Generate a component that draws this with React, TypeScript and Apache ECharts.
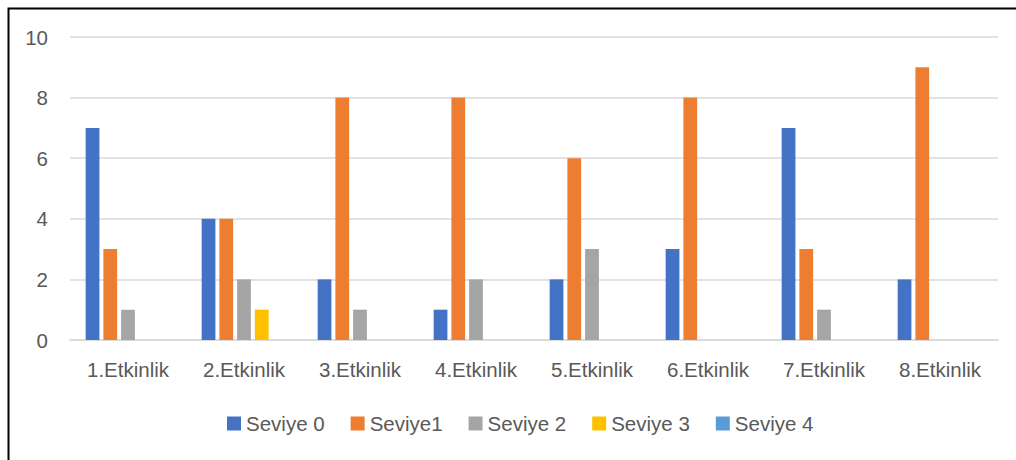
import React, { useEffect, useRef } from "react";
import * as echarts from "echarts";

// Categories along the x axis
const categories = [
  "1.Etkinlik",
  "2.Etkinlik",
  "3.Etkinlik",
  "4.Etkinlik",
  "5.Etkinlik",
  "6.Etkinlik",
  "7.Etkinlik",
  "8.Etkinlik",
];

// Series names and values per category
const seriesNames = ["Seviye 0", "Seviye1", "Seviye 2", "Seviye 3", "Seviye 4"];
const seviye0 = [7, 4, 2, 1, 2, 3, 7, 2];
const seviye1 = [3, 4, 8, 8, 6, 8, 3, 9];
const seviye2 = [1, 2, 1, 2, 3, 0, 1, 0];
const seviye3 = [0, 1, 0, 0, 0, 0, 0, 0];
const seviye4 = [0, 0, 0, 0, 0, 0, 0, 0];

const seriesColors = ["#4472C4", "#ED7D31", "#A5A5A5", "#FFC000", "#5B9BD5"];

// Y axis range
const yMin = 0;
const yMax = 10;
const yStep = 2;

const FONT = "'Liberation Sans', Arial, sans-serif";
const TEXT_COLOR = "#595959";
const GRID_COLOR = "#D9D9D9";

export default function App() {
  const ref = useRef<HTMLDivElement>(null);

  useEffect(() => {
    if (!ref.current) return;
    const chart = echarts.init(ref.current, null, { renderer: "svg" });
    const values = [seviye0, seviye1, seviye2, seviye3, seviye4];

    chart.setOption({
      animation: false,
      backgroundColor: "#FFFFFF",
      textStyle: { fontFamily: FONT },
      graphic: [
        {
          type: "rect",
          left: 6,
          top: 6,
          shape: { x: 0, y: 0, width: 1040, height: 480 },
          style: { fill: "none", stroke: "#000000", lineWidth: 2 },
          silent: true,
        },
      ],
      grid: {
        left: 70,
        right: 18,
        top: 37,
        bottom: 120,
        containLabel: false,
      },
      legend: {
        left: 222,
        top: 408,
        itemWidth: 14,
        itemHeight: 14,
        itemGap: 26,
        icon: "rect",
        textStyle: { color: TEXT_COLOR, fontSize: 20.5, fontFamily: FONT },
        data: seriesNames,
      },
      xAxis: {
        type: "category",
        data: categories,
        axisLine: { show: true, lineStyle: { color: GRID_COLOR, width: 1.5 } },
        axisTick: { show: false },
        axisLabel: {
          color: TEXT_COLOR,
          fontSize: 20.5,
          fontFamily: FONT,
          margin: 19,
          interval: 0,
        },
      },
      yAxis: {
        type: "value",
        min: yMin,
        max: yMax,
        interval: yStep,
        axisLine: { show: false },
        axisTick: { show: false },
        splitLine: { lineStyle: { color: GRID_COLOR, width: 1.5 } },
        axisLabel: {
          color: TEXT_COLOR,
          fontSize: 20.5,
          fontFamily: FONT,
          margin: 22,
        },
      },
      series: seriesNames.map((name, i) => ({
        name,
        type: "bar",
        data: values[i],
        barGap: "29%",
        barCategoryGap: "27%",
        itemStyle: { color: seriesColors[i] },
      })),
    });

    return () => chart.dispose();
  }, []);

  return (
    <div
      ref={ref}
      style={{ position: "absolute", left: 0, top: 0, width: 1016, height: 460 }}
    />
  );
}
